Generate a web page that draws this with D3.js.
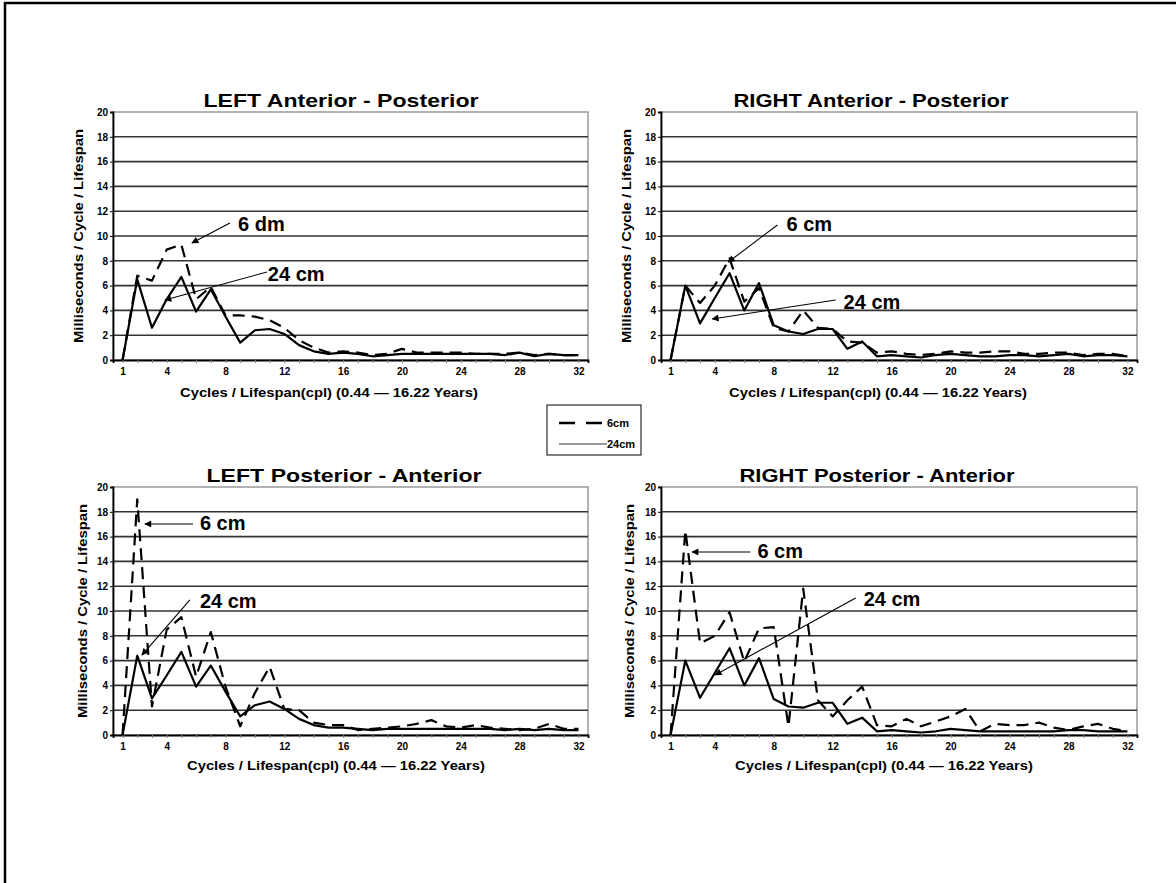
<!DOCTYPE html>
<html lang="en">
<head>
<meta charset="utf-8">
<title>cycles per lifespan</title>
<script src="https://d3js.org/d3.v7.min.js"></script>
<style>
  body{margin:0;background:#fff;font-family:"Liberation Sans",Arial,sans-serif;}
  svg text{font-weight:bold;fill:#000;}
</style>
</head>
<body>
<div id="chart"></div>
<script>
// x categories (cycles per lifespan) and tick labels
var cycles = [1,2,3,4,5,6,7,8,9,10,11,12,13,14,15,16,17,18,19,20,21,22,23,24,25,26,27,28,29,30,31,32]
var xTickLabels = [1,4,8,12,16,20,24,28,32]
var yTicks = [0,2,4,6,8,10,12,14,16,18,20]

// LEFT Anterior - Posterior
var leftAP24 = [0,6.5,2.6,4.9,6.7,3.9,5.7,3.5,1.4,2.4,2.5,2.1,1.2,0.7,0.5,0.6,0.5,0.3,0.4,0.5,0.5,0.5,0.5,0.5,0.5,0.5,0.4,0.6,0.3,0.5,0.4,0.4]
var leftAP6  = [0,6.8,6.4,8.9,9.3,4.9,5.9,3.6,3.6,3.5,3.2,2.6,1.6,1.0,0.6,0.7,0.6,0.4,0.5,0.9,0.6,0.6,0.6,0.6,0.5,0.5,0.5,0.6,0.4,0.5,0.4,0.4]
// RIGHT Anterior - Posterior
var rightAP24 = [0,6.0,2.95,5.0,7.0,4.0,6.2,2.8,2.3,2.1,2.5,2.5,0.9,1.5,0.3,0.4,0.3,0.2,0.4,0.5,0.4,0.3,0.3,0.4,0.4,0.3,0.4,0.5,0.3,0.4,0.4,0.3]
var rightAP6  = [0,6.0,4.6,6.0,8.2,4.7,5.8,2.6,2.3,4.0,2.6,2.5,1.5,1.4,0.6,0.7,0.5,0.4,0.5,0.7,0.6,0.6,0.7,0.7,0.5,0.5,0.6,0.6,0.4,0.5,0.5,0.3]
// LEFT Posterior - Anterior
var leftPA24 = [0,6.4,2.95,4.8,6.7,3.9,5.6,3.5,1.5,2.4,2.7,2.1,1.3,0.8,0.6,0.6,0.5,0.4,0.5,0.5,0.5,0.5,0.5,0.5,0.5,0.5,0.4,0.5,0.4,0.5,0.4,0.4]
var leftPA6  = [0,19.0,2.3,8.5,9.5,4.7,8.3,3.9,0.7,3.4,5.5,2.1,2.0,1.0,0.8,0.8,0.4,0.5,0.6,0.7,0.9,1.2,0.7,0.6,0.8,0.6,0.5,0.4,0.5,0.9,0.5,0.5]
// RIGHT Posterior - Anterior
var rightPA24 = [0,6.0,3.0,5.0,7.0,4.0,6.2,2.9,2.3,2.2,2.6,2.6,0.9,1.4,0.3,0.4,0.3,0.2,0.3,0.5,0.4,0.3,0.3,0.3,0.3,0.3,0.3,0.4,0.4,0.3,0.3,0.3]
var rightPA6  = [0,16.5,7.4,8.0,9.9,5.9,8.6,8.7,0.7,11.8,2.8,1.5,2.8,3.9,0.8,0.7,1.3,0.7,1.1,1.5,2.1,0.3,0.9,0.8,0.8,1.0,0.6,0.4,0.7,0.9,0.5,0.3]

var titles = ["LEFT  Anterior - Posterior","RIGHT  Anterior - Posterior","LEFT  Posterior - Anterior","RIGHT  Posterior - Anterior"]

var w = 1176, h = 883
var svg = d3.select("#chart").append("svg").attr("width",w).attr("height",h)

// arrowhead
svg.append("defs").append("marker")
    .attr("id","arr").attr("viewBox","0 0 10 10").attr("refX",9).attr("refY",5)
    .attr("markerWidth",9).attr("markerHeight",7).attr("orient","auto").attr("markerUnits","userSpaceOnUse")
    .append("path").attr("d","M0,0L10,5L0,10z").attr("fill","#000")

// page frame (left and top)
svg.append("path").attr("d","M5,883V3H1176").attr("fill","none").attr("stroke","#000").attr("stroke-width",2.5)

var panels = [
  {title:titles[0], s24:leftAP24, s6:leftAP6, x0:113, x1:588, y0:360, y1:112, tx:341, ty:107, lx:329, ly:397, yl:79,
   notes:[{t:"6 dm", x:8.85, y:10.4, fx:8.3, fy:11.05, tox:5.72, toy:9.44},
          {t:"24 cm", x:10.88, y:6.37, fx:10.82, fy:7.1, tox:3.88, toy:4.84}]},
  {title:titles[1], s24:rightAP24, s6:rightAP6, x0:661, x1:1137, y0:360, y1:112, tx:871, ty:107, lx:878, ly:397, yl:627,
   notes:[{t:"6 cm", x:8.87, y:10.4, fx:8.25, fy:10.89, tox:4.92, toy:7.9},
          {t:"24 cm", x:12.74, y:4.11, fx:12.2, fy:4.84, tox:3.83, toy:3.31}]},
  {title:titles[2], s24:leftPA24, s6:leftPA6, x0:113, x1:588, y0:735, y1:487, tx:344, ty:482, lx:336, ly:770, yl:83,
   notes:[{t:"6 cm", x:6.26, y:16.53, fx:5.79, fy:17.02, tox:2.52, toy:17.02},
          {t:"24 cm", x:6.26, y:10.24, fx:5.58, fy:10.89, tox:2.32, toy:6.45}]},
  {title:titles[3], s24:rightPA24, s6:rightPA6, x0:661, x1:1137, y0:735, y1:487, tx:877, ty:482, lx:884, ly:770, yl:630,
   notes:[{t:"6 cm", x:6.89, y:14.27, fx:6.41, fy:14.76, tox:2.46, toy:14.76},
          {t:"24 cm", x:14.1, y:10.4, fx:13.56, fy:11.05, tox:4.03, toy:4.84}]}
]

panels.forEach(function(p){
  var x = d3.scaleLinear().domain([1-0.65, 32+0.65]).range([p.x0,p.x1])
  var y = d3.scaleLinear().domain([0,20]).range([p.y0,p.y1])
  var g = svg.append("g")

  // plot box
  g.append("rect").attr("x",p.x0).attr("y",p.y1).attr("width",p.x1-p.x0).attr("height",p.y0-p.y1)
    .attr("fill","none").attr("stroke","#999").attr("stroke-width",1.5)

  // gridlines
  g.selectAll(".grid").data(yTicks.filter(function(d){return d>0 && d<20})).enter()
    .append("line").attr("x1",p.x0).attr("x2",p.x1)
    .attr("y1",function(d){return y(d)}).attr("y2",function(d){return y(d)})
    .attr("stroke","#333").attr("stroke-width",1.6)

  // y axis
  var ya = g.append("g").attr("transform","translate("+p.x0+",0)")
    .call(d3.axisLeft(y).tickValues(yTicks).tickSize(3).tickPadding(2))
  ya.select(".domain").attr("stroke","#000").attr("stroke-width",1.8)
  ya.selectAll("text").style("font-size","10px").style("font-family","'Liberation Sans'").attr("font-weight","bold")

  // x axis: small ticks at every cycle, labels on a few
  var xa = g.append("g").attr("transform","translate(0,"+p.y0+")")
    .call(d3.axisBottom(x).tickValues(cycles).tickSize(3).tickPadding(5)
      .tickFormat(function(d){return xTickLabels.indexOf(d)>=0 ? d : ""}))
  xa.select(".domain").attr("stroke","#000").attr("stroke-width",1.8)
  xa.selectAll("line").attr("stroke","#888")
  xa.selectAll("text").style("font-size","10px").style("font-family","'Liberation Sans'").attr("font-weight","bold")

  // series
  var line = d3.line().x(function(d,i){return x(cycles[i])}).y(function(d){return y(d)})
  g.append("path").datum(p.s6).attr("d",line).attr("fill","none").attr("stroke","#000")
    .attr("stroke-width",2.2).attr("stroke-dasharray","12,7").attr("stroke-linejoin","round")
  g.append("path").datum(p.s24).attr("d",line).attr("fill","none").attr("stroke","#000")
    .attr("stroke-width",2.2).attr("stroke-linejoin","round")

  // titles and axis labels
  g.append("text").attr("x",p.tx).attr("y",p.ty).attr("text-anchor","middle")
    .style("font-size","18px").attr("textLength",275).attr("lengthAdjust","spacingAndGlyphs").text(p.title)
  g.append("text").attr("x",p.lx).attr("y",p.ly).attr("text-anchor","middle")
    .style("font-size","12px").attr("textLength",298).attr("lengthAdjust","spacingAndGlyphs")
    .text("Cycles / Lifespan(cpl) (0.44 \u2014 16.22 Years)")
  g.append("text").attr("transform","translate("+p.yl+","+((p.y0+p.y1)/2)+") rotate(-90)")
    .attr("text-anchor","middle").attr("dy","0.35em")
    .style("font-size","12px").attr("textLength",214).attr("lengthAdjust","spacingAndGlyphs")
    .text("Milliseconds / Cycle / Lifespan")

  // annotations
  p.notes.forEach(function(n){
    g.append("line").attr("x1",x(n.fx)).attr("y1",y(n.fy)).attr("x2",x(n.tox)).attr("y2",y(n.toy))
      .attr("stroke","#000").attr("stroke-width",1.1).attr("marker-end","url(#arr)")
    g.append("text").attr("x",x(n.x)).attr("y",y(n.y)).style("font-size","20px").text(n.t)
  })
})

// legend
var lg = svg.append("g")
lg.append("rect").attr("x",547).attr("y",405).attr("width",94).attr("height",50)
  .attr("fill","#fff").attr("stroke","#000").attr("stroke-width",1)
lg.append("line").attr("x1",559).attr("x2",602).attr("y1",423).attr("y2",423)
  .attr("stroke","#000").attr("stroke-width",2.5).attr("stroke-dasharray","16,11")
lg.append("line").attr("x1",559).attr("x2",607).attr("y1",444).attr("y2",444)
  .attr("stroke","#333").attr("stroke-width",1)
lg.append("text").attr("x",607).attr("y",427).style("font-size","11px").text("6cm")
lg.append("text").attr("x",607).attr("y",448).style("font-size","11px").text("24cm")
</script>
</body>
</html>
